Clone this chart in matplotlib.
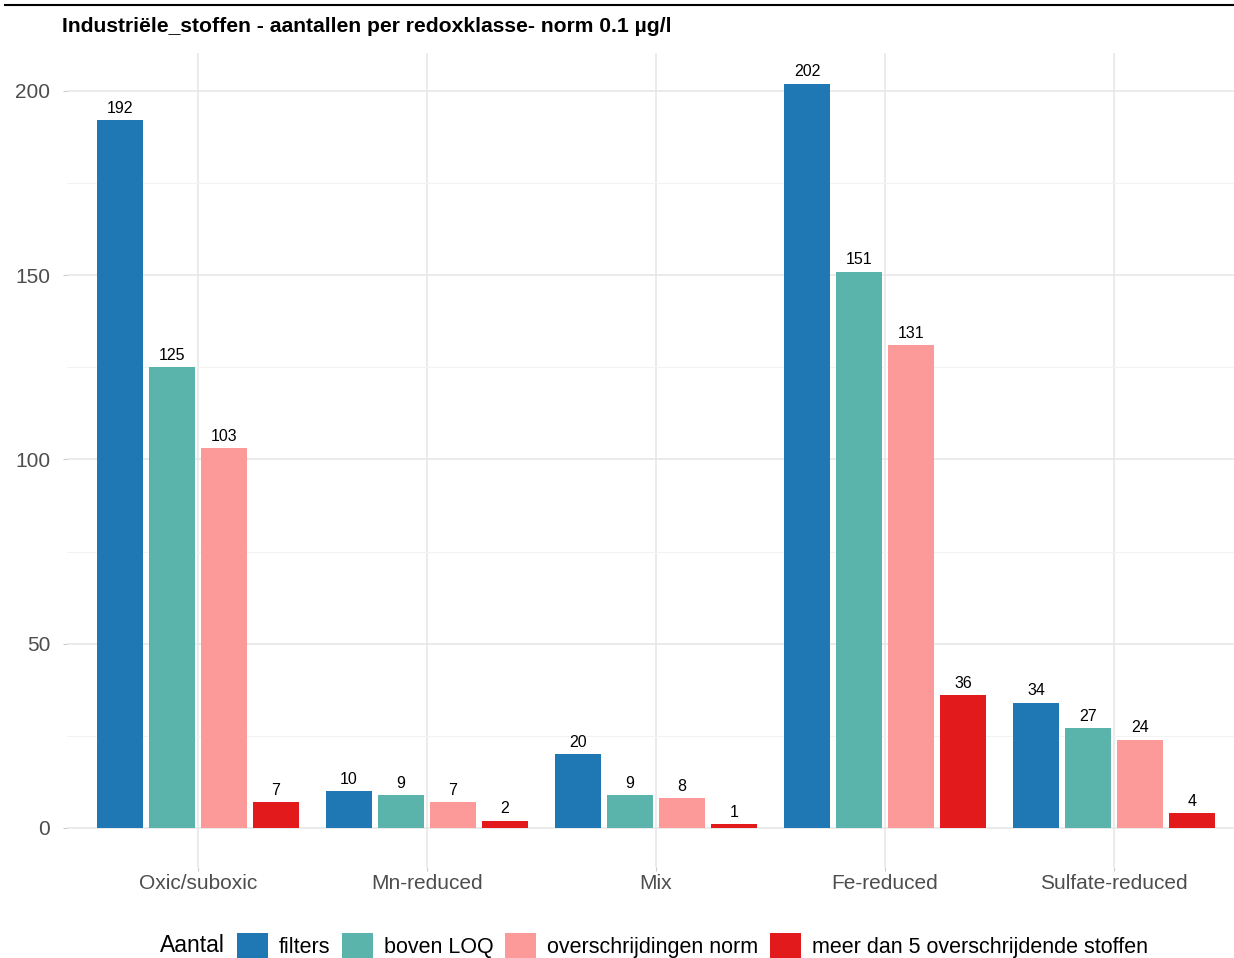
import matplotlib
matplotlib.use('Agg')
import numpy as np
import matplotlib.pyplot as plt
from matplotlib.lines import Line2D
from matplotlib.patches import Patch

plt.rcParams['font.family'] = ['Liberation Sans', 'DejaVu Sans']

# data
klassen = ['Oxic/suboxic', 'Mn-reduced', 'Mix', 'Fe-reduced', 'Sulfate-reduced']
series = ['filters', 'boven LOQ', 'overschrijdingen norm', 'meer dan 5 overschrijdende stoffen']
filters = [192, 10, 20, 202, 34]
boven_loq = [125, 9, 9, 151, 27]
overschr = [103, 7, 8, 131, 24]
meer_dan_5 = [7, 2, 1, 36, 4]
kleuren = ['#1f78b4', '#5ab4ac', '#fb9a99', '#e31a1c']
titel = 'Industriële_stoffen - aantallen per redoxklasse- norm 0.1 µg/l'

fig = plt.figure(figsize=(12.34, 9.58), dpi=100)
ax = fig.add_axes([67/1234, 1-867/958, 1-67/1234, (867-53)/958])

x = np.arange(len(klassen))
pitch = 0.227
breedte = 0.2
for i, (vals, kl) in enumerate(zip([filters, boven_loq, overschr, meer_dan_5], kleuren)):
    xs = x + (i - 1.5) * pitch
    ax.bar(xs, vals, width=breedte, color=kl, zorder=3)
    for xi, v in zip(xs, vals):
        ax.annotate(str(v), (xi, v), xytext=(0, 3), textcoords='offset points',
                    ha='center', va='bottom', fontsize=11.5, color='black', zorder=4)

ax.set_xlim(-0.572, 4.524)
ax.set_ylim(-10.6, 210.3)
ax.set_xticks(x)
ax.set_xticklabels(klassen)
ax.set_yticks([0, 50, 100, 150, 200])
ax.set_yticks([25, 75, 125, 175], minor=True)
ax.grid(True, which='major', color='#e6e6e6', lw=1.1, zorder=0)
ax.grid(True, which='minor', axis='y', color='#f3f3f3', lw=0.8, zorder=0)
ax.tick_params(axis='both', which='major', labelsize=15, labelcolor='#4d4d4d',
               color='#cccccc', length=3, width=0.8)
ax.tick_params(axis='x', pad=2)
ax.tick_params(axis='y', pad=9)
ax.tick_params(axis='y', which='minor', length=0)
for s in ax.spines.values():
    s.set_visible(False)

fig.text(62/1234, 1-27/958, titel, fontsize=15.2, fontweight='bold',
         ha='left', va='center', color='black')

# black line on top
fig.add_artist(Line2D([5/1234, 1], [1-5/958, 1-5/958], color='black', lw=1.5,
                      transform=fig.transFigure))

# legend along the bottom
fig.text(160/1234, 1-945/958, 'Aantal', fontsize=16.5, ha='left', va='center')
handles = [Patch(facecolor=k, edgecolor='none') for k in kleuren]
fig.legend(handles, series, loc='center left', bbox_to_anchor=(237/1234, 1-945.5/958),
           ncol=4, frameon=False, fontsize=15.5, handlelength=1.44, handleheight=1.44,
           handletextpad=0.5, columnspacing=0.55, borderpad=0, borderaxespad=0)

fig.savefig('out.png', dpi=100)
